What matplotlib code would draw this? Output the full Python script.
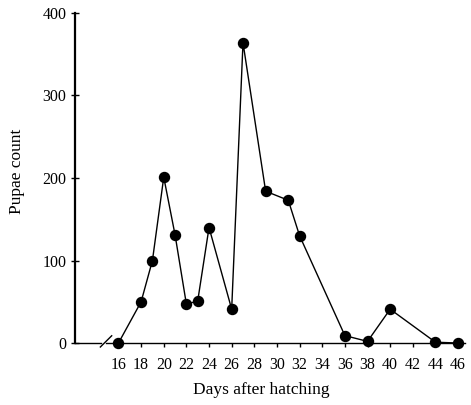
import matplotlib
matplotlib.use('Agg')
import matplotlib.pyplot as plt

# data
days = [16, 18, 19, 20, 21, 22, 23, 24, 26, 27, 29, 31, 32, 36, 38, 40, 44, 46]
pupae = [0, 50, 100, 201, 131, 47, 51, 140, 41, 364, 184, 173, 130, 9, 2, 41, 1, 0]
xticks = list(range(16, 47, 2))
yticks = [0, 100, 200, 300, 400]

plt.rcParams['font.family'] = ['Liberation Serif', 'DejaVu Serif']

fig = plt.figure(figsize=(4.71, 4.05), dpi=100)
ax = fig.add_axes([0.159, 0.153, 0.828, 0.815])

ax.plot(days, pupae, color='black', lw=1, marker='o', ms=7.2, clip_on=False, zorder=3)

ax.set_xlim(12.15, 46.6)
ax.set_ylim(0, 400)
ax.set_xticks(xticks)
ax.set_yticks(yticks)
ax.tick_params(axis='x', direction='out', length=3, width=1, labelsize=11.5, pad=7)
ax.tick_params(axis='y', direction='inout', length=6, width=1, labelsize=11.5, pad=3)

for s in ['top', 'right', 'bottom']:
    ax.spines[s].set_visible(False)
ax.spines['left'].set_linewidth(1.6)

# x axis with a break mark
trans = ax.get_xaxis_transform()
ax.plot([12.15, 14.5], [0, 0], color='black', lw=1, transform=ax.transData, clip_on=False)
ax.plot([14.9, 46.6], [0, 0], color='black', lw=1, transform=ax.transData, clip_on=False)
ax.plot([14.4, 15.4], [-0.012, 0.022], color='black', lw=1, transform=trans, clip_on=False)

ax.set_xlabel('Days after hatching', fontsize=12.5)
ax.set_ylabel('Pupae count', fontsize=12.5)
ax.xaxis.set_label_coords(0.477, -0.118)
ax.yaxis.set_label_coords(-0.128, 0.52)

fig.savefig('out.png', dpi=100)
